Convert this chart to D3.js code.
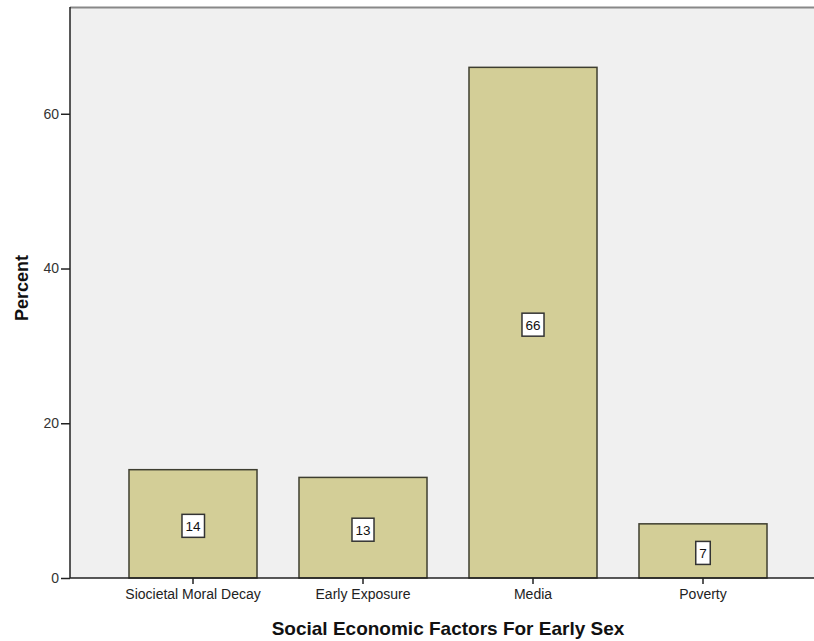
<!DOCTYPE html>
<html>
<head>
<meta charset="utf-8">
<script src="https://cdn.jsdelivr.net/npm/d3@7"></script>
<style>
  html, body { margin: 0; padding: 0; background: #ffffff; }
  svg { display: block; }
</style>
</head>
<body>
<svg id="chart" width="814" height="641"></svg>
<script>
// Social economic factors for early sex — percent of respondents
const categories = ["Siocietal Moral Decay", "Early Exposure", "Media", "Poverty"];
const percents = [14, 13, 66, 7];
const yTicks = [0, 20, 40, 60];

const W = 814, H = 641;
const plot = { left: 70, top: 7, right: 814, bottom: 578 };
const FONT = "Arial, 'Liberation Sans', sans-serif";

const svg = d3.select("#chart");

const x = d3.scaleBand()
  .domain(categories)
  .range([108, 788])
  .paddingInner(0.247)
  .paddingOuter(0.1235);

const y = d3.scaleLinear()
  .domain([0, 73.8])
  .range([plot.bottom, plot.top]);

// plot background
svg.append("rect")
  .attr("x", plot.left).attr("y", plot.top)
  .attr("width", plot.right - plot.left)
  .attr("height", plot.bottom - plot.top)
  .attr("fill", "#f0f0f0");

// top frame line
svg.append("line")
  .attr("x1", plot.left).attr("x2", plot.right)
  .attr("y1", plot.top + 0.5).attr("y2", plot.top + 0.5)
  .attr("stroke", "#888888").attr("stroke-width", 2);

// bars
svg.append("g").selectAll("rect")
  .data(categories)
  .join("rect")
  .attr("x", d => x(d))
  .attr("y", (d, i) => y(percents[i]))
  .attr("width", x.bandwidth())
  .attr("height", (d, i) => y(0) - y(percents[i]))
  .attr("fill", "#d3ce97")
  .attr("stroke", "#3e3e30")
  .attr("stroke-width", 1.5);

// y axis
const yAxis = svg.append("g")
  .attr("transform", `translate(${plot.left},0)`)
  .call(d3.axisLeft(y).tickValues(yTicks).tickSize(9).tickSizeOuter(0).tickPadding(2));
yAxis.select(".domain").attr("stroke", "#222").attr("stroke-width", 1.5)
  .attr("d", `M0,${plot.top}V${plot.bottom}`);
yAxis.selectAll(".tick line").attr("stroke", "#222").attr("stroke-width", 1.5);
yAxis.selectAll(".tick text")
  .attr("font-family", FONT)
  .attr("font-size", 14).attr("fill", "#333");

// x axis
const xAxis = svg.append("g")
  .attr("transform", `translate(0,${plot.bottom})`)
  .call(d3.axisBottom(x).tickSize(6).tickSizeOuter(0).tickPadding(5));
xAxis.select(".domain").attr("stroke", "#222").attr("stroke-width", 1.5)
  .attr("d", `M${plot.left},0H${plot.right}`);
xAxis.selectAll(".tick line").attr("stroke", "#222").attr("stroke-width", 1.5);
xAxis.selectAll(".tick text")
  .attr("font-family", FONT)
  .attr("font-size", 14).attr("fill", "#222");

// value labels in boxes at bar mid-height
const labels = svg.append("g").selectAll("g")
  .data(categories)
  .join("g")
  .attr("transform", (d, i) =>
    `translate(${x(d) + x.bandwidth() / 2},${(y(percents[i]) + y(0)) / 2 + 2})`);

labels.append("text")
  .attr("text-anchor", "middle")
  .attr("dy", "0.36em")
  .attr("font-family", FONT)
  .attr("font-size", 13.5)
  .attr("fill", "#111")
  .text((d, i) => percents[i]);

labels.each(function () {
  const g = d3.select(this);
  const bb = g.select("text").node().getBBox();
  g.insert("rect", "text")
    .attr("x", bb.x - 3.5)
    .attr("y", -11.5)
    .attr("width", bb.width + 7)
    .attr("height", 23)
    .attr("fill", "#ffffff")
    .attr("stroke", "#333")
    .attr("stroke-width", 1.5);
});

// axis titles
svg.append("text")
  .attr("x", 448).attr("y", 635)
  .attr("text-anchor", "middle")
  .attr("font-family", FONT)
  .attr("font-size", 19).attr("font-weight", "bold")
  .attr("fill", "#111")
  .text("Social Economic Factors For Early Sex");

svg.append("text")
  .attr("transform", "translate(28,288) rotate(-90)")
  .attr("text-anchor", "middle")
  .attr("font-family", FONT)
  .attr("font-size", 18).attr("font-weight", "bold")
  .attr("fill", "#111")
  .text("Percent");
</script>
</body>
</html>
